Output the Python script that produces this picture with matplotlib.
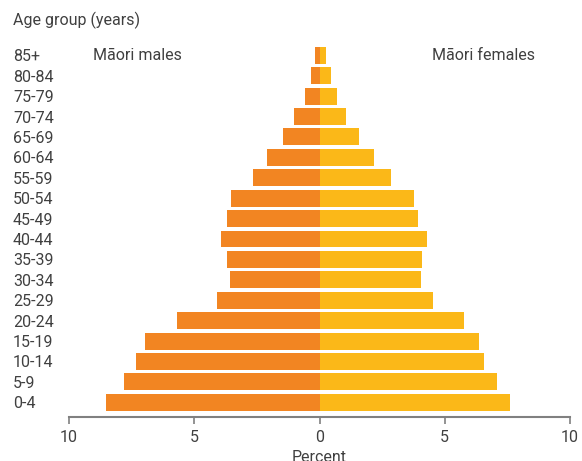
import matplotlib
matplotlib.use("Agg")
import matplotlib.pyplot as plt
from matplotlib.ticker import FuncFormatter

age_groups = ["0-4", "5-9", "10-14", "15-19", "20-24", "25-29", "30-34", "35-39",
              "40-44", "45-49", "50-54", "55-59", "60-64", "65-69", "70-74",
              "75-79", "80-84", "85+"]
males = [8.54, 7.82, 7.31, 6.95, 5.67, 4.11, 3.59, 3.71, 3.95, 3.71, 3.55,
         2.67, 2.08, 1.44, 1.00, 0.56, 0.32, 0.16]
females = [7.62, 7.07, 6.55, 6.35, 5.75, 4.55, 4.07, 4.11, 4.31, 3.95, 3.79,
           2.87, 2.16, 1.56, 1.04, 0.68, 0.44, 0.24]
x_ticks = [-10, -5, 0, 5, 10]

male_color = "#F28522"
female_color = "#FBB818"
text_color = "#404040"

plt.rcParams['font.family'] = ['Roboto', 'DejaVu Sans']
fs = 11.5

W, H = 582, 461
fig = plt.figure(figsize=(W / 100, H / 100), dpi=100)
ax = fig.add_axes([69 / W, (H - 417) / H, 501 / W, 377 / H])

ypos = list(range(len(age_groups)))
ax.barh(ypos, [-m for m in males], height=0.83, color=male_color, linewidth=0)
ax.barh(ypos, females, height=0.83, color=female_color, linewidth=0)

ax.set_xlim(-10, 10)
ax.set_ylim(-0.72, 17.75)
ax.set_xticks(x_ticks)
ax.xaxis.set_major_formatter(FuncFormatter(lambda v, p: f"{abs(v):g}"))
ax.set_yticks(ypos)
ax.set_yticklabels(age_groups, ha='left')
ax.tick_params(axis='y', length=0, pad=56 * 0.72, labelsize=fs, labelcolor=text_color)
ax.tick_params(axis='x', length=5, width=1.2, color='#808080', labelsize=fs,
               labelcolor=text_color, pad=4)

for s in ['top', 'right', 'left']:
    ax.spines[s].set_visible(False)
ax.spines['bottom'].set_color('#808080')
ax.spines['bottom'].set_linewidth(1.5)

ax.set_xlabel("Percent", fontsize=fs, color=text_color, labelpad=4)

fig.text(13 / W, 1 - 20 / H, "Age group (years)", fontsize=fs, color=text_color,
         ha='left', va='center')
ax.text(-9.05, 17, "Māori males", fontsize=fs, color=text_color, ha='left', va='center')
ax.text(8.6, 17, "Māori females", fontsize=fs, color=text_color, ha='right', va='center')

fig.savefig("out.png", dpi=100)
